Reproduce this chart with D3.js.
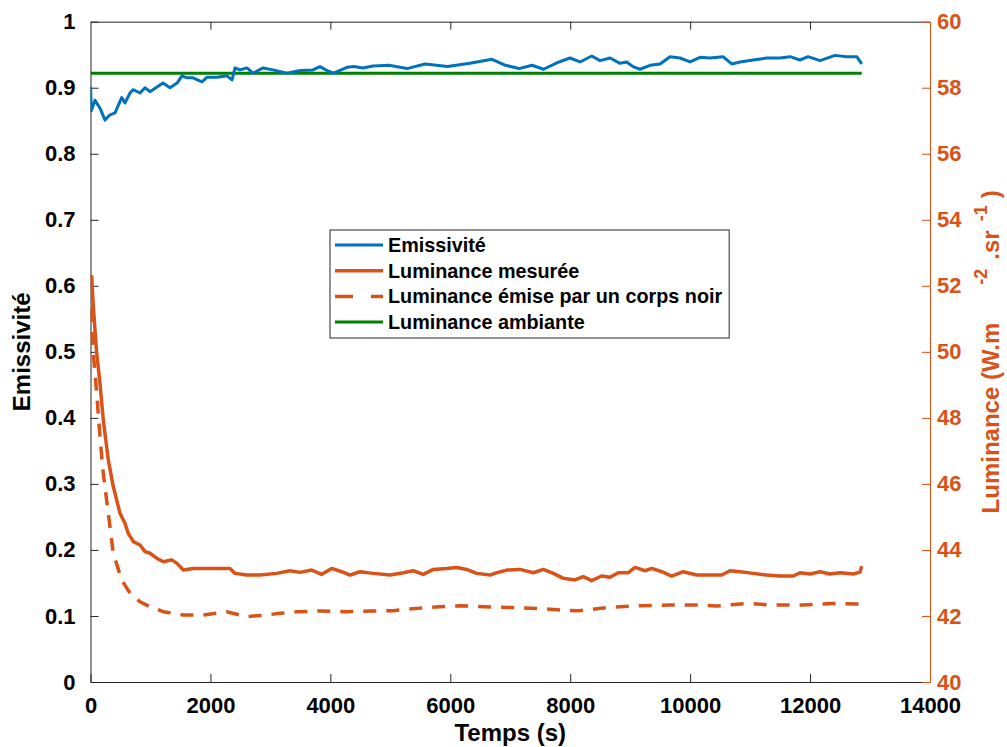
<!DOCTYPE html>
<html><head><meta charset="utf-8">
<script src="https://cdn.jsdelivr.net/npm/d3@7"></script>
<style>
body{margin:0;background:#fff}
text{font-family:"Liberation Sans",Arial,Helvetica,sans-serif;font-weight:bold}
</style>
</head><body>
<svg id="chart" width="1007" height="747"></svg>
<script>
// ---- data ----
const xTicks = [0, 2000, 4000, 6000, 8000, 10000, 12000, 14000];
const yLeftTicks = [0, 0.1, 0.2, 0.3, 0.4, 0.5, 0.6, 0.7, 0.8, 0.9, 1];
const yRightTicks = [40, 42, 44, 46, 48, 50, 52, 54, 56, 58, 60];
const seriesNames = ["Emissivité", "Luminance mesurée", "Luminance émise par un corps noir", "Luminance ambiante"];

const emissiviteTime = [0,13,75,158,242,325,409,520,575,659,709,826,909,992,1109,1209,1326,1443,1526,1609,1709,1859,1943,2110,2276,2360,2410,2493,2610,2710,2877,3043,3277,3494,3711,3827,3944,4053,4278,4394,4544,4711,4978,5278,5578,5954,6329,6696,6921,7146,7363,7555,7813,7997,8163,8359,8497,8664,8831,8942,9047,9164,9331,9498,9664,9831,9998,10165,10331,10548,10693,10832,11048,11277,11499,11666,11832,11966,12166,12416,12611,12778,12861];
const emissivite = [0.902,0.865,0.881,0.869,0.851,0.859,0.862,0.885,0.877,0.892,0.897,0.892,0.900,0.894,0.901,0.907,0.900,0.907,0.918,0.915,0.915,0.909,0.916,0.916,0.918,0.912,0.930,0.927,0.930,0.922,0.930,0.927,0.922,0.926,0.927,0.932,0.926,0.922,0.931,0.932,0.930,0.933,0.934,0.929,0.936,0.932,0.937,0.943,0.934,0.929,0.934,0.928,0.939,0.945,0.939,0.948,0.941,0.945,0.937,0.939,0.932,0.928,0.934,0.936,0.947,0.945,0.939,0.946,0.945,0.947,0.936,0.939,0.942,0.945,0.945,0.947,0.942,0.947,0.941,0.949,0.947,0.947,0.936];

const lumMesureeTime = [0,20,47,103,158,213,297,380,492,575,630,714,826,909,992,1104,1214,1354,1438,1548,1714,1993,2326,2410,2605,2827,3105,3327,3494,3689,3856,4022,4189,4328,4495,4716,4995,5217,5383,5550,5717,5940,6107,6274,6441,6663,6774,6941,7163,7385,7551,7718,7885,8080,8218,8358,8525,8664,8802,8969,9081,9247,9359,9526,9693,9886,10110,10331,10526,10665,10832,11054,11277,11499,11721,11832,11999,12166,12332,12499,12721,12833,12861];
const lumMesuree = [52.2,52.28,51.37,49.96,49.05,47.94,46.72,45.92,45.11,44.81,44.50,44.25,44.15,43.95,43.90,43.75,43.64,43.70,43.60,43.39,43.44,43.44,43.44,43.29,43.24,43.24,43.29,43.37,43.32,43.39,43.26,43.44,43.34,43.24,43.34,43.29,43.24,43.31,43.37,43.26,43.41,43.44,43.47,43.41,43.29,43.24,43.31,43.39,43.41,43.31,43.41,43.29,43.14,43.09,43.19,43.07,43.21,43.17,43.31,43.31,43.47,43.37,43.44,43.34,43.21,43.34,43.24,43.24,43.24,43.37,43.34,43.29,43.24,43.21,43.21,43.31,43.27,43.34,43.27,43.31,43.27,43.33,43.51];

const lumCorpsNoirTime = [0,47,103,158,213,297,380,520,659,826,992,1214,1548,1881,2271,2605,2939,3160,3439,3827,4273,4661,5050,5440,5829,6191,6579,6996,7441,7830,8135,8247,8664,9164,9664,10110,10443,10943,11387,11888,12361,12778,12861];
const lumCorpsNoir = [51.3,49.96,48.74,47.43,46.32,45.11,43.90,43.09,42.69,42.43,42.28,42.13,42.03,42.03,42.13,41.98,42.03,42.08,42.13,42.15,42.13,42.15,42.16,42.23,42.28,42.31,42.28,42.26,42.23,42.18,42.16,42.18,42.26,42.31,42.33,42.33,42.30,42.38,42.33,42.33,42.38,42.36,42.35];

const lumAmbianteTime = [0, 12861];
const lumAmbiante = [58.44, 58.44];

// ---- layout / style ----
const BLUE = "#0072BD", ORANGE = "#D95319", GREEN = "#008000", AX = "#262626";
const L = 90.5, R = 930, T = 21.7, B = 682;
const TICK_FS = "22px", LABEL_FS = "24px", LEGEND_FS = "19.8px";
const svg = d3.select("#chart");

const x = d3.scaleLinear().domain([0, 14000]).range([L, R]);
const yL = d3.scaleLinear().domain([0, 1]).range([B, T]);
const yR = d3.scaleLinear().domain([40, 60]).range([B, T]);

svg.append("defs").append("clipPath").attr("id", "clip")
  .append("rect").attr("x", L).attr("y", T).attr("width", R - L).attr("height", B - T);

// axes
const fmtL = d => (d === 0 || d === 1) ? String(d) : d3.format(".1f")(d);
const gB = svg.append("g").attr("transform", `translate(0,${B})`)
  .call(d3.axisBottom(x).tickValues(xTicks).tickSizeInner(-8).tickSizeOuter(0).tickPadding(15).tickFormat(d3.format("d")));
const gT = svg.append("g").attr("transform", `translate(0,${T})`)
  .call(d3.axisTop(x).tickValues(xTicks).tickSizeInner(-8).tickSizeOuter(0).tickFormat(""));
const gL = svg.append("g").attr("transform", `translate(${L},0)`)
  .call(d3.axisLeft(yL).tickValues(yLeftTicks).tickSizeInner(-8).tickSizeOuter(0).tickPadding(15).tickFormat(fmtL));
const gR = svg.append("g").attr("transform", `translate(${R},0)`)
  .call(d3.axisRight(yR).tickValues(yRightTicks).tickSizeInner(-8).tickSizeOuter(0).tickPadding(7).tickFormat(d3.format("d")));

[gB, gT, gL].forEach(g => {
  g.selectAll(".domain").attr("stroke", AX).attr("stroke-width", 1);
  g.selectAll(".tick line").attr("stroke", AX).attr("stroke-width", 1);
  g.selectAll("text").attr("fill", "#000").style("font-size", TICK_FS);
});
gR.selectAll(".domain").attr("stroke", ORANGE).attr("stroke-width", 1);
gR.selectAll(".tick line").attr("stroke", ORANGE);
gR.selectAll("text").attr("fill", ORANGE).style("font-size", TICK_FS);
gB.selectAll(".tick").filter(d => d === 14000).select("line").remove();
gT.selectAll(".tick").filter(d => d === 14000 || d === 0).select("line").remove();

// series
const plot = svg.append("g").attr("clip-path", "url(#clip)");
const lineE = d3.line().x(d => x(d[0])).y(d => yL(d[1]));
const lineR = d3.line().x(d => x(d[0])).y(d => yR(d[1]));

plot.append("path").datum(d3.zip(lumAmbianteTime, lumAmbiante)).attr("d", lineR)
  .attr("fill", "none").attr("stroke", GREEN).attr("stroke-width", 3);
plot.append("path").datum(d3.zip(emissiviteTime, emissivite)).attr("d", lineE)
  .attr("fill", "none").attr("stroke", BLUE).attr("stroke-width", 3).attr("stroke-linejoin", "round");
plot.append("path").datum(d3.zip(lumMesureeTime, lumMesuree)).attr("d", lineR)
  .attr("fill", "none").attr("stroke", ORANGE).attr("stroke-width", 3.5).attr("stroke-linejoin", "round");
plot.append("path").datum(d3.zip(lumCorpsNoirTime, lumCorpsNoir)).attr("d", lineR)
  .attr("fill", "none").attr("stroke", ORANGE).attr("stroke-width", 3.5).attr("stroke-dasharray", "13,10");

// axis titles
svg.append("text").attr("x", (L + R) / 2).attr("y", 741).attr("text-anchor", "middle")
  .attr("fill", "#000").style("font-size", LABEL_FS).text("Temps (s)");
svg.append("text").attr("transform", `translate(30,${(T + B) / 2}) rotate(-90)`).attr("text-anchor", "middle")
  .attr("fill", "#000").style("font-size", LABEL_FS).text("Emissivité");
const rl = svg.append("text").attr("transform", `translate(999,${(T + B) / 2}) rotate(-90)`)
  .attr("text-anchor", "middle").attr("fill", ORANGE).style("font-size", LABEL_FS);
rl.append("tspan").text("Luminance (W.m");
rl.append("tspan").attr("dx", 38).attr("dy", -12).style("font-size", "18px").text("-2");
rl.append("tspan").attr("dx", 9).attr("dy", 12).text(".sr");
rl.append("tspan").attr("dx", 9).attr("dy", -12).style("font-size", "18px").text("-1");
rl.append("tspan").attr("dx", 7).attr("dy", 12).text(")");

// legend
const legendStyles = [
  {color: BLUE, w: 3, dash: null},
  {color: ORANGE, w: 3.5, dash: null},
  {color: ORANGE, w: 3.5, dash: "18,18"},
  {color: GREEN, w: 3, dash: null}
];
const lg = svg.append("g");
const box = lg.append("rect").attr("x", 330).attr("y", 230).attr("height", 108)
  .attr("fill", "#fff").attr("stroke", AX).attr("stroke-width", 1);
let maxW = 0;
seriesNames.forEach((name, i) => {
  const cy = 245 + i * 25.7;
  const s = legendStyles[i];
  lg.append("line").attr("x1", 335).attr("x2", 383).attr("y1", cy).attr("y2", cy)
    .attr("stroke", s.color).attr("stroke-width", s.w).attr("stroke-dasharray", s.dash);
  const t = lg.append("text").attr("x", 388).attr("y", cy).attr("dy", "0.35em")
    .attr("fill", "#000").style("font-size", LEGEND_FS).text(name);
  maxW = Math.max(maxW, t.node().getComputedTextLength());
});
box.attr("width", 388 + maxW + 7 - 330);
</script>
</body></html>
